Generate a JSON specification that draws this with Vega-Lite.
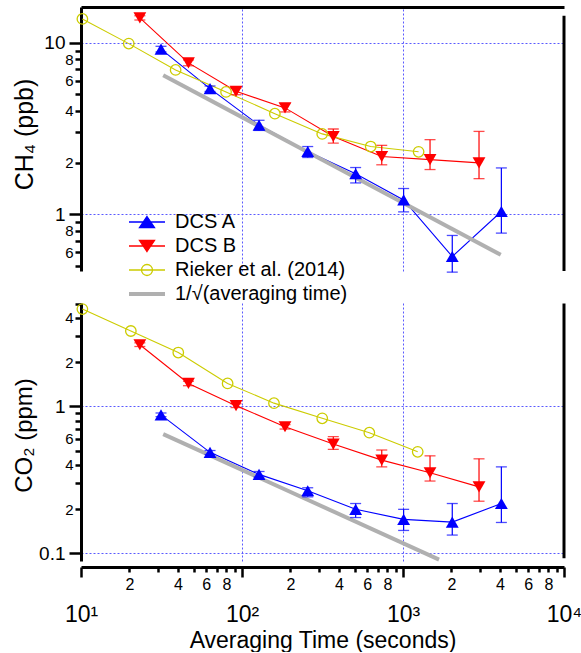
{
  "$schema": "https://vega.github.io/schema/vega-lite/v6.json",
  "padding": {"left": 12, "top": 7, "right": 0, "bottom": 0},
  "bounds": "flush",
  "spacing": 32,
  "config": {
    "view": {"stroke": null},
    "font": "Liberation Sans",
    "axis": {"domainColor": "black", "tickColor": "black", "labelColor": "black", "titleColor": "black", "labelFont": "Liberation Sans", "titleFont": "Liberation Sans", "titleFontWeight": "normal"}
  },
  "datasets": {
    "d": [
      {"gas": "CH4", "series": "DCS A", "t": 31.4, "v": 9.2, "lo": 8.85, "hi": 9.55},
      {"gas": "CH4", "series": "DCS A", "t": 63.3, "v": 5.4, "lo": 5.2, "hi": 5.6},
      {"gas": "CH4", "series": "DCS A", "t": 127.6, "v": 3.31, "lo": 3.08, "hi": 3.53},
      {"gas": "CH4", "series": "DCS A", "t": 256, "v": 2.32, "lo": 2.14, "hi": 2.48},
      {"gas": "CH4", "series": "DCS A", "t": 508, "v": 1.72, "lo": 1.52, "hi": 1.87},
      {"gas": "CH4", "series": "DCS A", "t": 1009, "v": 1.21, "lo": 1.03, "hi": 1.41},
      {"gas": "CH4", "series": "DCS A", "t": 2023, "v": 0.565, "lo": 0.458, "hi": 0.75},
      {"gas": "CH4", "series": "DCS A", "t": 4083, "v": 1.035, "lo": 0.774, "hi": 1.86},
      {"gas": "CH4", "series": "DCS B", "t": 23.2, "v": 14.0, "lo": 13.6, "hi": 14.4},
      {"gas": "CH4", "series": "DCS B", "t": 46.5, "v": 7.64, "lo": 7.35, "hi": 7.95},
      {"gas": "CH4", "series": "DCS B", "t": 91.8, "v": 5.21, "lo": 4.98, "hi": 5.45},
      {"gas": "CH4", "series": "DCS B", "t": 185, "v": 4.17, "lo": 3.95, "hi": 4.42},
      {"gas": "CH4", "series": "DCS B", "t": 369, "v": 2.84, "lo": 2.6, "hi": 3.14},
      {"gas": "CH4", "series": "DCS B", "t": 738, "v": 2.17, "lo": 1.94, "hi": 2.52},
      {"gas": "CH4", "series": "DCS B", "t": 1472, "v": 2.08, "lo": 1.82, "hi": 2.72},
      {"gas": "CH4", "series": "DCS B", "t": 2966, "v": 1.99, "lo": 1.61, "hi": 3.04},
      {"gas": "CH4", "series": "Rieker et al. (2014)", "t": 10.2, "v": 13.8},
      {"gas": "CH4", "series": "Rieker et al. (2014)", "t": 19.8, "v": 9.9},
      {"gas": "CH4", "series": "Rieker et al. (2014)", "t": 38.7, "v": 6.95},
      {"gas": "CH4", "series": "Rieker et al. (2014)", "t": 79.6, "v": 5.17},
      {"gas": "CH4", "series": "Rieker et al. (2014)", "t": 160, "v": 3.86},
      {"gas": "CH4", "series": "Rieker et al. (2014)", "t": 315, "v": 2.94},
      {"gas": "CH4", "series": "Rieker et al. (2014)", "t": 630, "v": 2.48},
      {"gas": "CH4", "series": "Rieker et al. (2014)", "t": 1250, "v": 2.31},
      {"gas": "CH4", "series": "1/√(averaging time)", "t": 32.4, "v": 6.47},
      {"gas": "CH4", "series": "1/√(averaging time)", "t": 4046, "v": 0.578},
      {"gas": "CO2", "series": "DCS A", "t": 31.4, "v": 0.873, "lo": 0.85, "hi": 0.9},
      {"gas": "CO2", "series": "DCS A", "t": 63.3, "v": 0.486, "lo": 0.47, "hi": 0.5},
      {"gas": "CO2", "series": "DCS A", "t": 127.6, "v": 0.344, "lo": 0.33, "hi": 0.36},
      {"gas": "CO2", "series": "DCS A", "t": 256, "v": 0.266, "lo": 0.242, "hi": 0.279},
      {"gas": "CO2", "series": "DCS A", "t": 508, "v": 0.199, "lo": 0.175, "hi": 0.218},
      {"gas": "CO2", "series": "DCS A", "t": 1009, "v": 0.17, "lo": 0.143, "hi": 0.199},
      {"gas": "CO2", "series": "DCS A", "t": 2023, "v": 0.163, "lo": 0.133, "hi": 0.218},
      {"gas": "CO2", "series": "DCS A", "t": 4083, "v": 0.218, "lo": 0.162, "hi": 0.387},
      {"gas": "CO2", "series": "DCS B", "t": 23.2, "v": 2.62, "lo": 2.55, "hi": 2.7},
      {"gas": "CO2", "series": "DCS B", "t": 46.5, "v": 1.43, "lo": 1.38, "hi": 1.48},
      {"gas": "CO2", "series": "DCS B", "t": 91.8, "v": 1.01, "lo": 0.98, "hi": 1.04},
      {"gas": "CO2", "series": "DCS B", "t": 185, "v": 0.726, "lo": 0.7, "hi": 0.75},
      {"gas": "CO2", "series": "DCS B", "t": 369, "v": 0.553, "lo": 0.509, "hi": 0.621},
      {"gas": "CO2", "series": "DCS B", "t": 738, "v": 0.43, "lo": 0.387, "hi": 0.504},
      {"gas": "CO2", "series": "DCS B", "t": 1472, "v": 0.353, "lo": 0.31, "hi": 0.46},
      {"gas": "CO2", "series": "DCS B", "t": 2966, "v": 0.283, "lo": 0.226, "hi": 0.439},
      {"gas": "CO2", "series": "Rieker et al. (2014)", "t": 10.2, "v": 4.58},
      {"gas": "CO2", "series": "Rieker et al. (2014)", "t": 20.4, "v": 3.25},
      {"gas": "CO2", "series": "Rieker et al. (2014)", "t": 40.2, "v": 2.32},
      {"gas": "CO2", "series": "Rieker et al. (2014)", "t": 81.4, "v": 1.43},
      {"gas": "CO2", "series": "Rieker et al. (2014)", "t": 158, "v": 1.05},
      {"gas": "CO2", "series": "Rieker et al. (2014)", "t": 315, "v": 0.828},
      {"gas": "CO2", "series": "Rieker et al. (2014)", "t": 618, "v": 0.661},
      {"gas": "CO2", "series": "Rieker et al. (2014)", "t": 1234, "v": 0.49},
      {"gas": "CO2", "series": "1/√(averaging time)", "t": 32.4, "v": 0.647},
      {"gas": "CO2", "series": "1/√(averaging time)", "t": 1675, "v": 0.0906}
    ]
  },
  "data": {"name": "d"},
  "vconcat": [
    {
      "width": 483, "height": 264,
      "transform": [{"filter": "datum.gas == 'CH4'"}],
      "encoding": {
        "x": {"field": "t", "type": "quantitative", "scale": {"type": "log", "domain": [10, 10000], "nice": false},
          "axis": {"orient": "top", "values": [100, 1000], "ticks": false, "labels": false, "domain": true, "domainWidth": 3, "title": null, "grid": true, "gridColor": "#5a5aff", "gridDash": [2, 2], "gridWidth": 1}},
        "y": {"field": "v", "type": "quantitative", "scale": {"type": "log", "domain": [0.465, 16.2], "nice": false, "zero": false},
          "axis": {"orient": "left", "values": [0.5, 0.6, 0.7, 0.8, 0.9, 1, 2, 3, 4, 5, 6, 7, 8, 9, 10],
            "labelExpr": "datum.value==10?'10':datum.value==1?'1':(datum.value==2||datum.value==4||datum.value==6||datum.value==8)?''+datum.value:datum.value==0.8?'8':datum.value==0.6?'6':''",
            "tickSize": {"condition": {"test": "datum.value==1||datum.value==10", "value": 12}, "value": 6},
            "labelPadding": {"condition": {"test": "datum.value==1||datum.value==10", "value": 4}, "value": 2},
            "labelFontSize": {"condition": {"test": "datum.value==1||datum.value==10", "value": 19}, "value": 15},
            "labelOverlap": false, "labelFlush": false,
            "domainWidth": 3, "tickWidth": 2.5,
            "grid": true, "gridColor": "#5a5aff", "gridDash": [2, 2], "gridWidth": 1,
            "gridOpacity": {"condition": {"test": "datum.value==1||datum.value==10", "value": 1}, "value": 0},
            "title": "CH₄ (ppb)", "titleFontSize": 25, "titlePadding": 6, "titleY": 127}},
        "color": {"field": "series", "type": "nominal",
          "scale": {"domain": ["DCS A", "DCS B", "Rieker et al. (2014)", "1/√(averaging time)"], "range": ["#0000ff", "#ff0000", "#cccc00", "#b0b0b0"]},
          "legend": {"orient": "none", "legendX": 56, "legendY": 205, "title": null, "padding": 0,
            "labelFont": "Liberation Sans", "labelFontSize": 20, "labelColor": "black", "labelOffset": 18, "rowPadding": 4, "labelLimit": 0,
            "symbolSize": 4, "symbolStrokeWidth": 1.3,
            "encode": {"symbols": {"update": {
              "shape": {"signal": "datum.value=='DCS A' ? 'M-18,0H18M0,-5.5L7.5,5.5H-7.5Z' : datum.value=='DCS B' ? 'M-18,0H18M0,5.5L7.5,-5.5H-7.5Z' : datum.value=='Rieker et al. (2014)' ? 'M-18,0H18M5.5,0A5.5,5.5,0,1,1,-5.5,0A5.5,5.5,0,1,1,5.5,0' : 'M-18,0H18'"},
              "fill": {"signal": "datum.value=='DCS A' ? '#0000ff' : datum.value=='DCS B' ? '#ff0000' : 'transparent'"},
              "fillOpacity": {"signal": "(datum.value=='DCS A' || datum.value=='DCS B') ? 1 : 0"},
              "stroke": {"signal": "datum.value=='DCS A' ? '#0000ff' : datum.value=='DCS B' ? '#ff0000' : datum.value=='Rieker et al. (2014)' ? '#cccc00' : '#b0b0b0'"},
              "strokeWidth": {"signal": "datum.value=='1/√(averaging time)' ? 4 : 1.3"},
              "opacity": {"value": 1}, "strokeOpacity": {"value": 1},
              "size": {"value": 4}
            }}}}}
      },
      "layer": [
        {"transform": [{"filter": "datum.series != '1/√(averaging time)'"}], "mark": {"type": "line", "strokeWidth": 1.1}},
        {"transform": [{"filter": "datum.series == '1/√(averaging time)'"}], "mark": {"type": "line", "strokeWidth": 4}},
        {"transform": [{"filter": "isValid(datum.lo)"}], "mark": {"type": "rule", "strokeWidth": 1.2},
          "encoding": {"y": {"field": "lo", "type": "quantitative"}, "y2": {"field": "hi"}}},
        {"transform": [{"filter": "isValid(datum.lo)"}, {"fold": ["lo", "hi"], "as": ["end", "ev"]}],
          "mark": {"type": "tick", "orient": "horizontal", "size": 11, "thickness": 1.3},
          "encoding": {"y": {"field": "ev", "type": "quantitative"}}},
        {"transform": [{"filter": "datum.series == 'DCS A' || datum.series == 'DCS B'"}],
          "mark": {"type": "point", "filled": true, "size": 165, "opacity": 1},
          "encoding": {"shape": {"field": "series", "type": "nominal", "scale": {"domain": ["DCS A", "DCS B"], "range": ["triangle-up", "triangle-down"]}, "legend": null}}},
        {"transform": [{"filter": "datum.series == 'Rieker et al. (2014)'"}],
          "mark": {"type": "point", "filled": false, "shape": "circle", "size": 110, "strokeWidth": 1.3, "opacity": 1}},
        {"transform": [{"filter": "datum.series == '1/√(averaging time)' && datum.t < 100"}],
          "mark": {"type": "rule", "strokeWidth": 3, "color": "black"},
          "encoding": {"x": {"datum": 10000, "type": "quantitative"}, "y": {"datum": 14.4, "type": "quantitative"}, "y2": {"datum": 0.465}, "color": {"value": "black"}}}
      ]
    },
    {
      "width": 483, "height": 258,
      "transform": [{"filter": "datum.gas == 'CO2'"}],
      "encoding": {
        "x": {"field": "t", "type": "quantitative", "scale": {"type": "log", "domain": [10, 10000], "nice": false},
          "axis": {"orient": "bottom", "offset": 6,
            "values": [10, 20, 30, 40, 50, 60, 70, 80, 90, 100, 200, 300, 400, 500, 600, 700, 800, 900, 1000, 2000, 3000, 4000, 5000, 6000, 7000, 8000, 9000, 10000],
            "labelExpr": "datum.value==10?'10¹':datum.value==100?'10²':datum.value==1000?'10³':datum.value==10000?'10⁴':(indexof([2,4,6,8], round(datum.value/pow(10, floor(log(datum.value)/LN10+1e-9))))>=0 ? ''+round(datum.value/pow(10, floor(log(datum.value)/LN10+1e-9))) : '')",
            "tickSize": {"condition": {"test": "datum.value==10||datum.value==100||datum.value==1000||datum.value==10000", "value": 10}, "value": 5},
            "labelPadding": {"condition": {"test": "datum.value==10||datum.value==100||datum.value==1000||datum.value==10000", "value": 26}, "value": 4},
            "labelFontSize": {"condition": {"test": "datum.value==10||datum.value==100||datum.value==1000||datum.value==10000", "value": 23}, "value": 16},
            "labelOverlap": false, "labelFlush": false, "labelBound": false,
            "domainWidth": 3, "tickWidth": 2.5,
            "grid": true, "gridColor": "#5a5aff", "gridDash": [2, 2], "gridWidth": 1,
            "gridOpacity": {"condition": {"test": "datum.value==100||datum.value==1000", "value": 1}, "value": 0},
            "title": "Averaging Time (seconds)", "titleFontSize": 23, "titlePadding": 3}},
        "y": {"field": "v", "type": "quantitative", "scale": {"type": "log", "domain": [0.0886, 5.04], "nice": false, "zero": false},
          "axis": {"orient": "left", "values": [0.1, 0.2, 0.3, 0.4, 0.5, 0.6, 0.7, 0.8, 0.9, 1, 2, 3, 4, 5],
            "labelExpr": "datum.value==1?'1':datum.value==0.1?'0.1':(datum.value==2||datum.value==4)?''+datum.value:datum.value==0.6?'6':datum.value==0.4?'4':datum.value==0.2?'2':''",
            "tickSize": {"condition": {"test": "datum.value==1||datum.value==0.1", "value": 12}, "value": 6},
            "labelPadding": {"condition": {"test": "datum.value==1||datum.value==0.1", "value": 4}, "value": 2},
            "labelFontSize": {"condition": {"test": "datum.value==1||datum.value==0.1", "value": 19}, "value": 15},
            "labelOverlap": false, "labelFlush": false,
            "domainWidth": 3, "tickWidth": 2.5,
            "grid": true, "gridColor": "#5a5aff", "gridDash": [2, 2], "gridWidth": 1,
            "gridOpacity": {"condition": {"test": "datum.value==1||datum.value==0.1", "value": 1}, "value": 0},
            "title": "CO₂ (ppm)", "titleFontSize": 24, "titlePadding": 2, "titleY": 132}},
        "color": {"field": "series", "type": "nominal"}
      },
      "layer": [
        {"transform": [{"filter": "datum.series != '1/√(averaging time)'"}], "mark": {"type": "line", "strokeWidth": 1.1}},
        {"transform": [{"filter": "datum.series == '1/√(averaging time)'"}], "mark": {"type": "line", "strokeWidth": 4}},
        {"transform": [{"filter": "isValid(datum.lo)"}], "mark": {"type": "rule", "strokeWidth": 1.2},
          "encoding": {"y": {"field": "lo", "type": "quantitative"}, "y2": {"field": "hi"}}},
        {"transform": [{"filter": "isValid(datum.lo)"}, {"fold": ["lo", "hi"], "as": ["end", "ev"]}],
          "mark": {"type": "tick", "orient": "horizontal", "size": 11, "thickness": 1.3},
          "encoding": {"y": {"field": "ev", "type": "quantitative"}}},
        {"transform": [{"filter": "datum.series == 'DCS A' || datum.series == 'DCS B'"}],
          "mark": {"type": "point", "filled": true, "size": 165, "opacity": 1},
          "encoding": {"shape": {"field": "series", "type": "nominal", "legend": null}}},
        {"transform": [{"filter": "datum.series == 'Rieker et al. (2014)'"}],
          "mark": {"type": "point", "filled": false, "shape": "circle", "size": 110, "strokeWidth": 1.3, "opacity": 1}},
        {"transform": [{"filter": "datum.series == '1/√(averaging time)' && datum.t < 100"}],
          "mark": {"type": "rule", "strokeWidth": 3, "color": "black"},
          "encoding": {"x": {"datum": 10000, "type": "quantitative"}, "y": {"datum": 5.0, "type": "quantitative"}, "y2": {"datum": 0.0925}, "color": {"value": "black"}}}
      ]
    }
  ]
}
